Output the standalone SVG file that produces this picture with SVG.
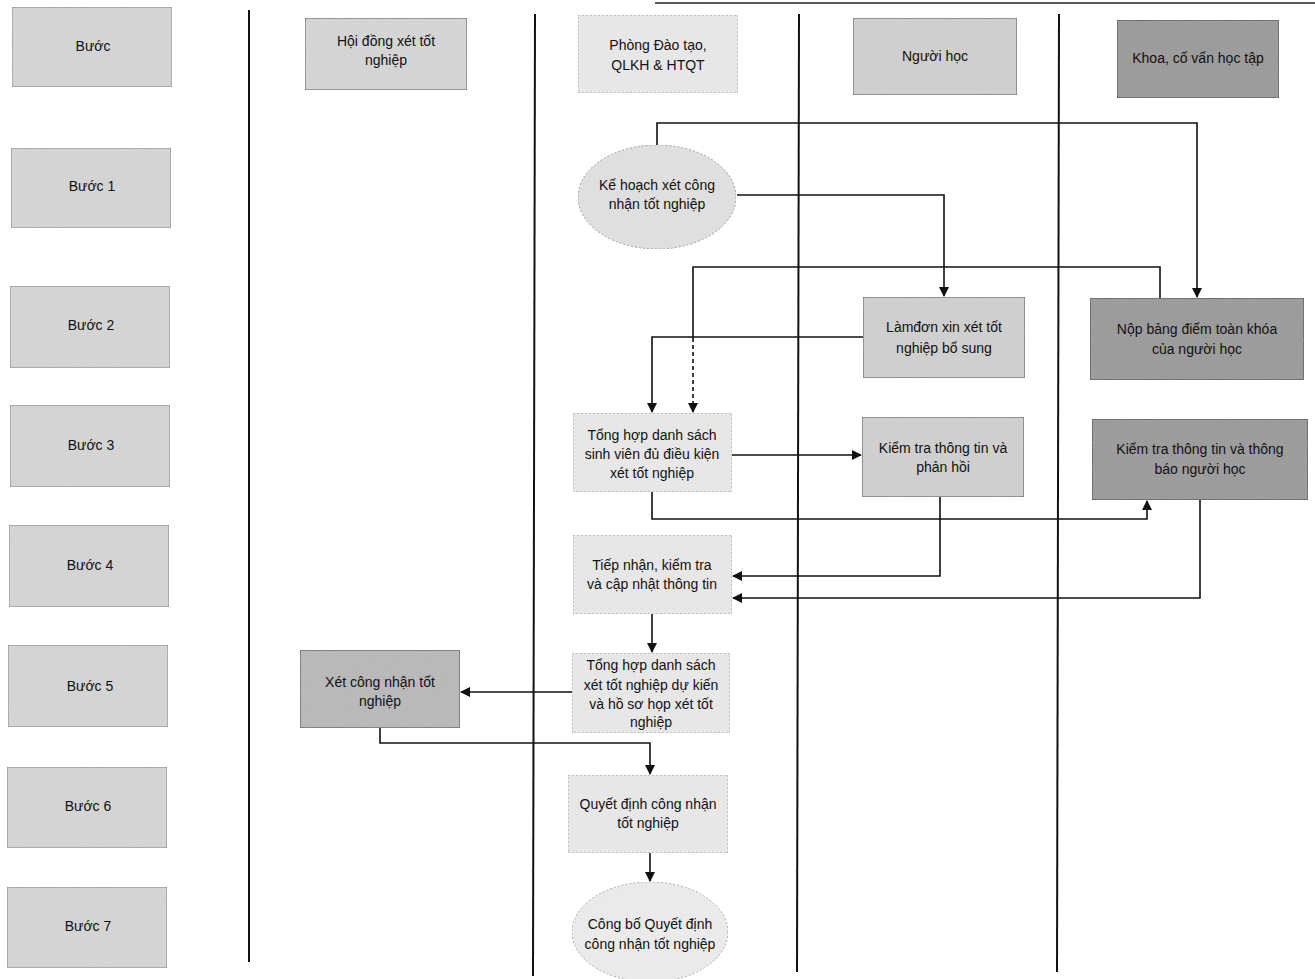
<svg xmlns="http://www.w3.org/2000/svg" width="1315" height="979" viewBox="0 0 1315 979">
<defs>
<marker id="arr" viewBox="0 0 10 10" refX="9" refY="5" markerWidth="10" markerHeight="10" markerUnits="userSpaceOnUse" orient="auto"><path d="M0,0 L10,5 L0,10 z" fill="#111"/></marker>
<filter id="noise" x="0" y="0" width="100%" height="100%"><feTurbulence type="fractalNoise" baseFrequency="0.9" numOctaves="2" seed="3" result="n"/><feColorMatrix in="n" type="matrix" values="0 0 0 0 0.5 0 0 0 0 0.5 0 0 0 0 0.5 0 0 0 0.35 0" result="g"/><feComposite in="g" in2="SourceGraphic" operator="in" result="gi"/><feMerge><feMergeNode in="SourceGraphic"/><feMergeNode in="gi"/></feMerge></filter>
</defs>
<style>
text{font-family:"Liberation Sans",Arial,sans-serif;font-size:14px;fill:#111;text-anchor:middle}
.step{fill:#d9d9d9;stroke:#777;stroke-width:1;filter:url(#noise)}
.light{fill:#efefef;stroke:#999;stroke-width:1;stroke-dasharray:2 2;filter:url(#noise)}
.mid{fill:#d3d3d3;stroke:#555;stroke-width:1.2;filter:url(#noise)}
.gray{fill:#b9b9b9;stroke:#444;stroke-width:1.2;filter:url(#noise)}
.dark{fill:#959595;stroke:#333;stroke-width:1.2;filter:url(#noise)}
.lane{stroke:#111;stroke-width:2;fill:none}
.conn{stroke:#111;stroke-width:1.6;fill:none;marker-end:url(#arr)}
.line{stroke:#111;stroke-width:1.6;fill:none}
.dash{stroke-dasharray:4 3}
</style>
<rect width="1315" height="979" fill="#fff"/>
<line x1="655" y1="3" x2="1315" y2="3" stroke="#222" stroke-width="1.5"/>
<g id="lanes">
<line class="lane" x1="249" y1="10" x2="249" y2="962"/>
<line class="lane" x1="535" y1="14" x2="533" y2="976"/>
<line class="lane" x1="799" y1="14" x2="797" y2="972"/>
<line class="lane" x1="1059" y1="14" x2="1057" y2="972"/>
</g>
<g id="step-header"><rect class="step" x="12" y="7" width="160" height="80"/><text x="93" y="51">Bước</text></g>
<g id="step1"><rect class="step" x="11" y="148" width="160" height="80"/><text x="92" y="191">Bước 1</text></g>
<g id="step2"><rect class="step" x="10" y="286" width="160" height="82"/><text x="91" y="330">Bước 2</text></g>
<g id="step3"><rect class="step" x="10" y="405" width="160" height="82"/><text x="91" y="450">Bước 3</text></g>
<g id="step4"><rect class="step" x="9" y="525" width="160" height="82"/><text x="90" y="570">Bước 4</text></g>
<g id="step5"><rect class="step" x="8" y="645" width="160" height="82"/><text x="90" y="691">Bước 5</text></g>
<g id="step6"><rect class="step" x="7" y="767" width="160" height="81"/><text x="88" y="811">Bước 6</text></g>
<g id="step7"><rect class="step" x="7" y="887" width="160" height="81"/><text x="88" y="931">Bước 7</text></g>
<g id="h-hoidong"><rect class="step" x="305" y="18" width="162" height="72" style="stroke:#444"/><text x="386" y="46">Hội đồng xét tốt</text><text x="386" y="65">nghiệp</text></g>
<g id="h-phong"><rect class="light" x="578" y="15" width="160" height="78"/><text x="658" y="50">Phòng Đào tạo,</text><text x="658" y="70">QLKH &amp; HTQT</text></g>
<g id="h-nguoihoc"><rect class="mid" x="853" y="18" width="164" height="77"/><text x="935" y="61">Người học</text></g>
<g id="h-khoa"><rect class="dark" x="1117" y="20" width="162" height="78"/><text x="1198" y="63">Khoa, cố vấn học tập</text></g>
<g id="connectors">
<path class="conn" d="M657,145 V123 H1197 V297"/>
<path class="conn" d="M737,195 H944 V296"/>
<path class="line" d="M1160,298 V267 H693 V338"/>
<path class="conn dash" d="M693,338 V412"/>
<path class="conn" d="M863,337 H652 V412"/>
<path class="conn" d="M732,455 H861"/>
<path class="conn" d="M652,492 V519 H1147 V501"/>
<path class="conn" d="M940,497 V576 H733"/>
<path class="conn" d="M1200,500 V598 H733"/>
<path class="conn" d="M652,614 V652"/>
<path class="conn" d="M572,692 H461"/>
<path class="conn" d="M380,728 V743 H650 V774"/>
<path class="conn" d="M650,853 V881"/>
</g>
<g id="n-kehoach"><ellipse cx="657" cy="197" rx="79" ry="52" fill="#e6e6e6" stroke="#999" stroke-dasharray="2 2" filter="url(#noise)"/><text x="657" y="190">Kế hoạch xét công</text><text x="657" y="209">nhận tốt nghiệp</text></g>
<g id="n-lamdon"><rect class="mid" x="863" y="297" width="162" height="81"/><text x="944" y="332">Làmđơn xin xét tốt</text><text x="944" y="353">nghiệp bổ sung</text></g>
<g id="n-nopbang"><rect class="dark" x="1090" y="298" width="214" height="82"/><text x="1197" y="334">Nộp bảng điểm toàn khóa</text><text x="1197" y="354">của người học</text></g>
<g id="n-tonghop1"><rect class="light" x="573" y="413" width="159" height="79"/><text x="652" y="440">Tổng hợp danh sách</text><text x="652" y="459">sinh viên đủ điều kiện</text><text x="652" y="478">xét tốt nghiệp</text></g>
<g id="n-kiemtra1"><rect class="mid" x="862" y="417" width="162" height="80"/><text x="943" y="453">Kiểm tra thông tin và</text><text x="943" y="472">phản hồi</text></g>
<g id="n-kiemtra2"><rect class="dark" x="1092" y="419" width="216" height="81"/><text x="1200" y="454">Kiểm tra thông tin và thông</text><text x="1200" y="474">báo người học</text></g>
<g id="n-tiepnhan"><rect class="light" x="573" y="535" width="159" height="79"/><text x="652" y="570">Tiếp nhận, kiểm tra</text><text x="652" y="589">và cập nhật thông tin</text></g>
<g id="n-tonghop2"><rect class="light" x="572" y="653" width="158" height="80"/><text x="651" y="670">Tổng hợp danh sách</text><text x="651" y="690">xét tốt nghiệp dự kiến</text><text x="651" y="709">và hồ sơ họp xét tốt</text><text x="651" y="727">nghiệp</text></g>
<g id="n-xetcongnhan"><rect class="gray" x="300" y="650" width="160" height="78"/><text x="380" y="687">Xét công nhận tốt</text><text x="380" y="706">nghiệp</text></g>
<g id="n-quyetdinh"><rect class="light" x="568" y="775" width="160" height="78"/><text x="648" y="809">Quyết định công nhận</text><text x="648" y="828">tốt nghiệp</text></g>
<g id="n-congbo"><ellipse cx="650" cy="932" rx="78" ry="50" fill="#f3f3f3" stroke="#aaa" stroke-dasharray="2 2" filter="url(#noise)"/><text x="650" y="929">Công bố Quyết định</text><text x="650" y="949">công nhận tốt nghiệp</text></g>
</svg>
